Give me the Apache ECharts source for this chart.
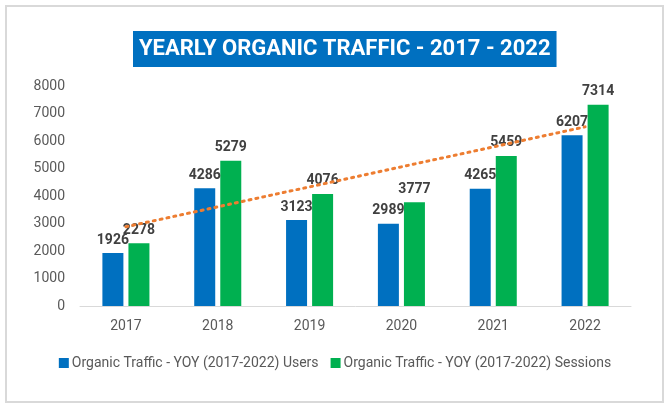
<!DOCTYPE html>
<html>
<head>
<meta charset="utf-8">
<title>Yearly Organic Traffic</title>
<script src="https://cdn.jsdelivr.net/npm/echarts@6/dist/echarts.min.js"></script>
<style>
  html, body { margin: 0; padding: 0; background: #fff; }
  #chart { width: 670px; height: 409px; }
</style>
</head>
<body>
<div id="chart"></div>
<script>
// data
const years = ['2017', '2018', '2019', '2020', '2021', '2022']
const users = [1926, 4286, 3123, 2989, 4265, 6207]
const sessions = [2278, 5279, 4076, 3777, 5459, 7314]
// linear trend of sessions, only the two ends are drawn
const trend = [2880, null, null, null, null, 6513]

const usersName = 'Organic Traffic - YOY (2017-2022) Users'
const sessionsName = 'Organic Traffic - YOY (2017-2022) Sessions'

const font = 'Roboto, "Noto Sans", sans-serif'

const labelStyle = {
  show: true,
  position: 'top',
  distance: 6,
  fontSize: 14,
  fontWeight: 'bold',
  color: '#404040',
  fontFamily: font
}

const chart = echarts.init(document.getElementById('chart'))

chart.setOption({
  animation: false,
  textStyle: { fontFamily: font },
  graphic: [
    {
      type: 'rect',
      shape: { x: 6, y: 6, width: 657, height: 396 },
      style: { fill: 'none', stroke: '#d9d9d9', lineWidth: 2 },
      z: -1
    }
  ],
  title: {
    text: 'YEARLY ORGANIC TRAFFIC - 2017 - 2022',
    left: 133,
    top: 31,
    backgroundColor: '#0070C0',
    padding: [7, 6],
    textStyle: {
      color: '#fff',
      fontSize: 22,
      fontWeight: 'bold',
      fontFamily: font
    }
  },
  legend: {
    data: [usersName, sessionsName],
    top: 351,
    left: 'center',
    icon: 'rect',
    itemWidth: 10,
    itemHeight: 10,
    itemGap: 12,
    textStyle: { fontSize: 14, color: '#595959', fontFamily: font, padding: [0, 0, 0, -2] }
  },
  grid: {
    left: 80,
    right: 39,
    top: 86,
    bottom: 103
  },
  xAxis: {
    type: 'category',
    data: years,
    axisLine: { lineStyle: { color: '#d9d9d9', width: 1 } },
    axisTick: { show: false },
    axisLabel: { color: '#595959', fontSize: 14, margin: 13 }
  },
  yAxis: {
    type: 'value',
    min: 0,
    max: 8000,
    interval: 1000,
    splitLine: { show: false },
    axisLine: { show: false },
    axisTick: { show: false },
    axisLabel: { color: '#595959', fontSize: 14, margin: 15, formatter: v => String(v) }
  },
  series: [
    {
      name: usersName,
      type: 'bar',
      data: users,
      barWidth: 21,
      barGap: '24%',
      itemStyle: { color: '#0070C0' },
      label: labelStyle
    },
    {
      name: sessionsName,
      type: 'bar',
      data: sessions,
      barWidth: 21,
      itemStyle: { color: '#00B050' },
      label: labelStyle
    },
    {
      name: 'Trend',
      type: 'line',
      data: trend,
      connectNulls: true,
      symbol: 'none',
      z: 5,
      lineStyle: {
        color: '#ED7D31',
        width: 3,
        type: [2, 5],
        cap: 'round'
      }
    }
  ]
})

window.addEventListener('resize', () => {
  chart.resize()
})
</script>
</body>
</html>
